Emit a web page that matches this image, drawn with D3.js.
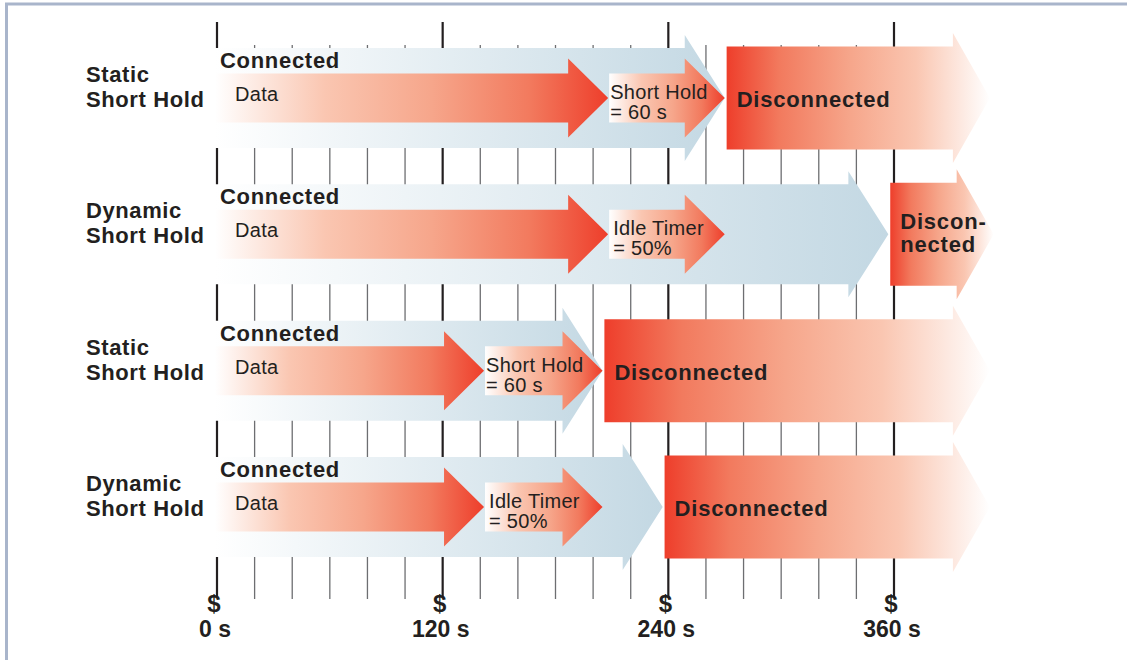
<!DOCTYPE html>
<html>
<head>
<meta charset="utf-8">
<script src="https://cdnjs.cloudflare.com/ajax/libs/d3/7.8.5/d3.min.js"></script>
<style>
    html, body { margin: 0; padding: 0; background: #ffffff; }
    svg { display: block; }
</style>
</head>
<body>
<div id="chart"></div>
<script>
// time axis (seconds)
var majorTicks = [0, 120, 240, 360];
var minorTicks = d3.range(20, 360, 20).filter(function (t) { return t % 120 !== 0; });
var tickLabels = ["0 s", "120 s", "240 s", "360 s"];

// one entry per row
var rowLabels = [["Static", "Short Hold"], ["Dynamic", "Short Hold"], ["Static", "Short Hold"], ["Dynamic", "Short Hold"]];
var connectedEnd = [270, 357, 205, 237];
var dataEnd = [208, 208, 142, 142];
var timerEnd = [270, 270, 205, 205];
var timerLabels = [["Short Hold", "= 60 s"], ["Idle Timer", "= 50%"], ["Short Hold", "= 60 s"], ["Idle Timer", "= 50%"]];
var discStart = [271, 358, 206, 238];
var discEnd = [411, 413, 411, 411];
var discLabels = [["Disconnected"], ["Discon-", "nected"], ["Disconnected"], ["Disconnected"]];

var width = 1127, height = 660;
var ink = "#231f20";

var svg = d3.select("#chart").append("svg")
    .attr("width", width)
    .attr("height", height);

var x = d3.scaleLinear().domain([0, 360]).range([217, 894]);
var y = d3.scalePoint().domain(d3.range(rowLabels.length)).range([98, 507]);

// gradients
var defs = svg.append("defs");
function gradient(id, stops) {
    var g = defs.append("linearGradient").attr("id", id)
        .attr("x1", "0%").attr("x2", "100%").attr("y1", "0%").attr("y2", "0%");
    stops.forEach(function (s) {
        g.append("stop").attr("offset", s[0]).attr("stop-color", s[1]);
    });
}
gradient("gBlue", [[0, "#ffffff"], [1, "#c3d8e3"]]);
gradient("gRedIn", [[0, "#ffffff"], [0.28, "#fac6b1"], [0.55, "#f6a68b"], [0.8, "#f27a5e"], [1, "#ee3e2b"]]);
gradient("gRedOut", [[0, "#ee3e2b"], [0.2, "#f27a5e"], [0.47, "#f6a68b"], [0.72, "#fac6b1"], [1, "#ffffff"]]);

// frame
svg.append("line").attr("x1", 5).attr("x2", width).attr("y1", 4).attr("y2", 4)
    .style("stroke", "#a9b5cb").style("stroke-width", 3);
svg.append("line").attr("x1", 6.5).attr("x2", 6.5).attr("y1", 3).attr("y2", height)
    .style("stroke", "#a9b5cb").style("stroke-width", 3);

// grid
svg.append("g").attr("class", "minor")
    .selectAll("line").data(minorTicks).enter().append("line")
    .attr("x1", function (d) { return x(d); })
    .attr("x2", function (d) { return x(d); })
    .attr("y1", 45).attr("y2", 599)
    .style("stroke", "#6d6e71").style("stroke-width", 1.3);
svg.append("g").attr("class", "major")
    .selectAll("line").data(majorTicks).enter().append("line")
    .attr("x1", function (d) { return x(d); })
    .attr("x2", function (d) { return x(d); })
    .attr("y1", 22).attr("y2", 596)
    .style("stroke", ink).style("stroke-width", 2.2);

function arrowPath(x0, x1, cy, bh, hh, hl) {
    var p = d3.path();
    p.moveTo(x0, cy - bh);
    p.lineTo(x1 - hl, cy - bh);
    p.lineTo(x1 - hl, cy - hh);
    p.lineTo(x1, cy);
    p.lineTo(x1 - hl, cy + hh);
    p.lineTo(x1 - hl, cy + bh);
    p.lineTo(x0, cy + bh);
    p.closePath();
    return p.toString();
}

var rows = svg.append("g").attr("class", "rows")
    .selectAll("g").data(d3.range(rowLabels.length)).enter().append("g");

// connected
rows.append("path")
    .attr("d", function (i) { return arrowPath(x(0) - 2, x(connectedEnd[i]), y(i), 50, 63, 40); })
    .style("fill", "url(#gBlue)");
// data
rows.append("path")
    .attr("d", function (i) { return arrowPath(x(0) - 2, x(dataEnd[i]), y(i), 24.5, 39.5, 40); })
    .style("fill", "url(#gRedIn)");
// short hold / idle timer
rows.append("path")
    .attr("d", function (i) { return arrowPath(x(dataEnd[i]) + 1, x(timerEnd[i]), y(i), 24.5, 39.5, 40); })
    .style("fill", "url(#gRedIn)");
// disconnected
rows.append("path")
    .attr("d", function (i) { return arrowPath(x(discStart[i]), x(discEnd[i]), y(i), 51.5, 65, 37); })
    .style("fill", "url(#gRedOut)");

var boldFont = "'Liberation Sans', Arial, Helvetica, sans-serif";

// row titles
rows.append("text")
    .attr("x", 86)
    .attr("y", function (i) { return y(i) - 16; })
    .style("font", "bold 22px " + boldFont)
    .style("letter-spacing", "0.6px")
    .style("fill", ink)
    .selectAll("tspan").data(function (i) { return rowLabels[i]; }).enter().append("tspan")
    .attr("x", 86)
    .attr("dy", function (d, k) { return k ? 25 : 0; })
    .text(function (d) { return d; });

rows.append("text")
    .attr("x", 220)
    .attr("y", function (i) { return y(i) - 30; })
    .style("font", "bold 22px " + boldFont)
    .style("letter-spacing", "0.7px")
    .style("fill", ink)
    .text("Connected");

rows.append("text")
    .attr("x", 235)
    .attr("y", function (i) { return y(i) + 3; })
    .style("font", "20px " + boldFont)
    .style("letter-spacing", "0.3px")
    .style("fill", ink)
    .text("Data");

rows.append("text")
    .attr("y", function (i) { return y(i) + 1; })
    .style("font", "20px " + boldFont)
    .style("letter-spacing", "0.3px")
    .style("fill", ink)
    .selectAll("tspan").data(function (i) {
        return timerLabels[i].map(function (t) { return { t: t, i: i }; });
    }).enter().append("tspan")
    .attr("x", function (d) { return x(dataEnd[d.i]) + (d.i % 2 ? 5 : 2); })
    .attr("dy", function (d, k) { return k ? 20 : 0; })
    .text(function (d) { return d.t; });

rows.append("text")
    .attr("y", function (i) { return discLabels[i].length > 1 ? y(i) - 5 : y(i) + 9; })
    .style("font", "bold 22px " + boldFont)
    .style("letter-spacing", "0.8px")
    .style("fill", ink)
    .selectAll("tspan").data(function (i) {
        return discLabels[i].map(function (t) { return { t: t, i: i }; });
    }).enter().append("tspan")
    .attr("x", function (d) { return x(discStart[d.i]) + 10; })
    .attr("dy", function (d, k) { return k ? 23 : 0; })
    .text(function (d) { return d.t; });

// axis labels
var axis = svg.append("g").attr("class", "axis")
    .selectAll("g").data(majorTicks).enter().append("g");
axis.append("text")
    .attr("x", function (d) { return x(d) - 3; })
    .attr("y", 612)
    .attr("text-anchor", "middle")
    .style("font", "bold 24px " + boldFont)
    .style("fill", ink)
    .text("$");
axis.append("text")
    .attr("x", function (d) { return x(d) - 2; })
    .attr("y", 637)
    .attr("text-anchor", "middle")
    .style("font", "bold 23px " + boldFont)
    .style("fill", ink)
    .text(function (d, k) { return tickLabels[k]; });
</script>
</body>
</html>
